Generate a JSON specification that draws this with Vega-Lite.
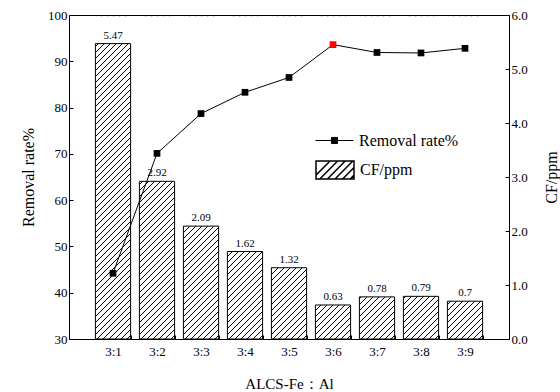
{
  "$schema": "https://vega.github.io/schema/vega-lite/v6.json",
  "width": 440,
  "height": 324,
  "autosize": "none",
  "padding": {"left": 69, "top": 15, "right": 51, "bottom": 53},
  "background": "white",
  "config": {
    "view": {"stroke": "black", "strokeWidth": 1},
    "font": "Liberation Serif, Times New Roman, serif",
    "axis": {"labelFont": "Liberation Serif, Times New Roman, serif", "titleFont": "Liberation Serif, Times New Roman, serif", "labelColor": "black", "titleColor": "black", "domainColor": "black", "tickColor": "black", "grid": false, "ticks": true, "titleFontWeight": "normal", "labelFontSize": 13, "titleFontSize": 16, "domainWidth": 1, "tickWidth": 1, "tickOpacity": 1, "zindex": 1},
    "legend": {"labelFont": "Liberation Serif, Times New Roman, serif", "labelFontSize": 16, "labelColor": "black"}
  },
  "data": {"values": [
    {"ratio": "3:1", "removal": 44.2, "cf": 5.47},
    {"ratio": "3:2", "removal": 70.1, "cf": 2.92},
    {"ratio": "3:3", "removal": 78.7, "cf": 2.09},
    {"ratio": "3:4", "removal": 83.3, "cf": 1.62},
    {"ratio": "3:5", "removal": 86.5, "cf": 1.32},
    {"ratio": "3:6", "removal": 93.6, "cf": 0.63},
    {"ratio": "3:7", "removal": 91.9, "cf": 0.78},
    {"ratio": "3:8", "removal": 91.8, "cf": 0.79},
    {"ratio": "3:9", "removal": 92.8, "cf": 0.7}
  ]},
  "layer": [
    {
      "layer": [
        {
          "mark": {"type": "bar", "fill": {"gradient": "linear", "x1": 0, "y1": 0, "x2": 0.1205, "y2": 1.1035, "stops": [
            {"offset": 0, "color": "#fff"},
            {"offset": 0.0139, "color": "#fff"}, {"offset": 0.0167, "color": "#000"}, {"offset": 0.0194, "color": "#fff"},
            {"offset": 0.0306, "color": "#fff"}, {"offset": 0.0333, "color": "#000"}, {"offset": 0.0361, "color": "#fff"},
            {"offset": 0.0472, "color": "#fff"}, {"offset": 0.05, "color": "#000"}, {"offset": 0.0528, "color": "#fff"},
            {"offset": 0.0639, "color": "#fff"}, {"offset": 0.0667, "color": "#000"}, {"offset": 0.0694, "color": "#fff"},
            {"offset": 0.0806, "color": "#fff"}, {"offset": 0.0833, "color": "#000"}, {"offset": 0.0861, "color": "#fff"},
            {"offset": 0.0972, "color": "#fff"}, {"offset": 0.1, "color": "#000"}, {"offset": 0.1028, "color": "#fff"},
            {"offset": 0.1139, "color": "#fff"}, {"offset": 0.1167, "color": "#000"}, {"offset": 0.1194, "color": "#fff"},
            {"offset": 0.1306, "color": "#fff"}, {"offset": 0.1333, "color": "#000"}, {"offset": 0.1361, "color": "#fff"},
            {"offset": 0.1472, "color": "#fff"}, {"offset": 0.15, "color": "#000"}, {"offset": 0.1528, "color": "#fff"},
            {"offset": 0.1639, "color": "#fff"}, {"offset": 0.1667, "color": "#000"}, {"offset": 0.1694, "color": "#fff"},
            {"offset": 0.1806, "color": "#fff"}, {"offset": 0.1833, "color": "#000"}, {"offset": 0.1861, "color": "#fff"},
            {"offset": 0.1972, "color": "#fff"}, {"offset": 0.2, "color": "#000"}, {"offset": 0.2028, "color": "#fff"},
            {"offset": 0.2139, "color": "#fff"}, {"offset": 0.2167, "color": "#000"}, {"offset": 0.2194, "color": "#fff"},
            {"offset": 0.2306, "color": "#fff"}, {"offset": 0.2333, "color": "#000"}, {"offset": 0.2361, "color": "#fff"},
            {"offset": 0.2472, "color": "#fff"}, {"offset": 0.25, "color": "#000"}, {"offset": 0.2528, "color": "#fff"},
            {"offset": 0.2639, "color": "#fff"}, {"offset": 0.2667, "color": "#000"}, {"offset": 0.2694, "color": "#fff"},
            {"offset": 0.2806, "color": "#fff"}, {"offset": 0.2833, "color": "#000"}, {"offset": 0.2861, "color": "#fff"},
            {"offset": 0.2972, "color": "#fff"}, {"offset": 0.3, "color": "#000"}, {"offset": 0.3028, "color": "#fff"},
            {"offset": 0.3139, "color": "#fff"}, {"offset": 0.3167, "color": "#000"}, {"offset": 0.3194, "color": "#fff"},
            {"offset": 0.3306, "color": "#fff"}, {"offset": 0.3333, "color": "#000"}, {"offset": 0.3361, "color": "#fff"},
            {"offset": 0.3472, "color": "#fff"}, {"offset": 0.35, "color": "#000"}, {"offset": 0.3528, "color": "#fff"},
            {"offset": 0.3639, "color": "#fff"}, {"offset": 0.3667, "color": "#000"}, {"offset": 0.3694, "color": "#fff"},
            {"offset": 0.3806, "color": "#fff"}, {"offset": 0.3833, "color": "#000"}, {"offset": 0.3861, "color": "#fff"},
            {"offset": 0.3972, "color": "#fff"}, {"offset": 0.4, "color": "#000"}, {"offset": 0.4028, "color": "#fff"},
            {"offset": 0.4139, "color": "#fff"}, {"offset": 0.4167, "color": "#000"}, {"offset": 0.4194, "color": "#fff"},
            {"offset": 0.4306, "color": "#fff"}, {"offset": 0.4333, "color": "#000"}, {"offset": 0.4361, "color": "#fff"},
            {"offset": 0.4472, "color": "#fff"}, {"offset": 0.45, "color": "#000"}, {"offset": 0.4528, "color": "#fff"},
            {"offset": 0.4639, "color": "#fff"}, {"offset": 0.4667, "color": "#000"}, {"offset": 0.4694, "color": "#fff"},
            {"offset": 0.4806, "color": "#fff"}, {"offset": 0.4833, "color": "#000"}, {"offset": 0.4861, "color": "#fff"},
            {"offset": 0.4972, "color": "#fff"}, {"offset": 0.5, "color": "#000"}, {"offset": 0.5028, "color": "#fff"},
            {"offset": 0.5139, "color": "#fff"}, {"offset": 0.5167, "color": "#000"}, {"offset": 0.5194, "color": "#fff"},
            {"offset": 0.5306, "color": "#fff"}, {"offset": 0.5333, "color": "#000"}, {"offset": 0.5361, "color": "#fff"},
            {"offset": 0.5472, "color": "#fff"}, {"offset": 0.55, "color": "#000"}, {"offset": 0.5528, "color": "#fff"},
            {"offset": 0.5639, "color": "#fff"}, {"offset": 0.5667, "color": "#000"}, {"offset": 0.5694, "color": "#fff"},
            {"offset": 0.5806, "color": "#fff"}, {"offset": 0.5833, "color": "#000"}, {"offset": 0.5861, "color": "#fff"},
            {"offset": 0.5972, "color": "#fff"}, {"offset": 0.6, "color": "#000"}, {"offset": 0.6028, "color": "#fff"},
            {"offset": 0.6139, "color": "#fff"}, {"offset": 0.6167, "color": "#000"}, {"offset": 0.6194, "color": "#fff"},
            {"offset": 0.6306, "color": "#fff"}, {"offset": 0.6333, "color": "#000"}, {"offset": 0.6361, "color": "#fff"},
            {"offset": 0.6472, "color": "#fff"}, {"offset": 0.65, "color": "#000"}, {"offset": 0.6528, "color": "#fff"},
            {"offset": 0.6639, "color": "#fff"}, {"offset": 0.6667, "color": "#000"}, {"offset": 0.6694, "color": "#fff"},
            {"offset": 0.6806, "color": "#fff"}, {"offset": 0.6833, "color": "#000"}, {"offset": 0.6861, "color": "#fff"},
            {"offset": 0.6972, "color": "#fff"}, {"offset": 0.7, "color": "#000"}, {"offset": 0.7028, "color": "#fff"},
            {"offset": 0.7139, "color": "#fff"}, {"offset": 0.7167, "color": "#000"}, {"offset": 0.7194, "color": "#fff"},
            {"offset": 0.7306, "color": "#fff"}, {"offset": 0.7333, "color": "#000"}, {"offset": 0.7361, "color": "#fff"},
            {"offset": 0.7472, "color": "#fff"}, {"offset": 0.75, "color": "#000"}, {"offset": 0.7528, "color": "#fff"},
            {"offset": 0.7639, "color": "#fff"}, {"offset": 0.7667, "color": "#000"}, {"offset": 0.7694, "color": "#fff"},
            {"offset": 0.7806, "color": "#fff"}, {"offset": 0.7833, "color": "#000"}, {"offset": 0.7861, "color": "#fff"},
            {"offset": 0.7972, "color": "#fff"}, {"offset": 0.8, "color": "#000"}, {"offset": 0.8028, "color": "#fff"},
            {"offset": 0.8139, "color": "#fff"}, {"offset": 0.8167, "color": "#000"}, {"offset": 0.8194, "color": "#fff"},
            {"offset": 0.8306, "color": "#fff"}, {"offset": 0.8333, "color": "#000"}, {"offset": 0.8361, "color": "#fff"},
            {"offset": 0.8472, "color": "#fff"}, {"offset": 0.85, "color": "#000"}, {"offset": 0.8528, "color": "#fff"},
            {"offset": 0.8639, "color": "#fff"}, {"offset": 0.8667, "color": "#000"}, {"offset": 0.8694, "color": "#fff"},
            {"offset": 0.8806, "color": "#fff"}, {"offset": 0.8833, "color": "#000"}, {"offset": 0.8861, "color": "#fff"},
            {"offset": 0.8972, "color": "#fff"}, {"offset": 0.9, "color": "#000"}, {"offset": 0.9028, "color": "#fff"},
            {"offset": 0.9139, "color": "#fff"}, {"offset": 0.9167, "color": "#000"}, {"offset": 0.9194, "color": "#fff"},
            {"offset": 0.9306, "color": "#fff"}, {"offset": 0.9333, "color": "#000"}, {"offset": 0.9361, "color": "#fff"},
            {"offset": 0.9472, "color": "#fff"}, {"offset": 0.95, "color": "#000"}, {"offset": 0.9528, "color": "#fff"},
            {"offset": 0.9639, "color": "#fff"}, {"offset": 0.9667, "color": "#000"}, {"offset": 0.9694, "color": "#fff"},
            {"offset": 0.9806, "color": "#fff"}, {"offset": 0.9833, "color": "#000"}, {"offset": 0.9861, "color": "#fff"},
            {"offset": 1, "color": "#fff"}
          ]}},
          "encoding": {
            "x": {"field": "ratio", "type": "ordinal", "scale": {"type": "band", "paddingInner": 0.2, "paddingOuter": 0.6},
                  "axis": {"title": "ALCS-Fe：Al", "titleFontSize": 15, "labelAngle": 0, "ticks": true, "tickBand": "extent", "tickSize": -4, "labelPadding": 10, "titlePadding": 18, "labelFontSize": 13}},
            "y": {"datum": 5.97, "type": "quantitative", "scale": {"domain": [0, 6], "nice": false, "zero": true},
                  "axis": {"orient": "right", "title": "CF/ppm", "titleAngle": 270, "titlePadding": 32, "ticks": true, "tickColor": "black", "tickOpacity": 1, "tickWidth": 1,
                           "values": [0, 0.25, 0.5, 0.75, 1, 1.25, 1.5, 1.75, 2, 2.25, 2.5, 2.75, 3, 3.25, 3.5, 3.75, 4, 4.25, 4.5, 4.75, 5, 5.25, 5.5, 5.75, 6],
                           "labelExpr": "round(datum.value*100) % 50 === 0 ? format(datum.value, '.1f') : ''",
                           "tickSize": -4,
                           "labelPadding": 6}},
            "y2": {"datum": 0}
          }
        },
        {
          "mark": {"type": "bar", "fill": "white", "width": {"band": 1.06}},
          "encoding": {
            "x": {"field": "ratio", "type": "ordinal"},
            "y": {"field": "cf", "type": "quantitative", "title": "CF/ppm"},
            "y2": {"datum": 5.97}
          }
        },
        {
          "mark": {"type": "bar", "stroke": "black", "strokeWidth": 1},
          "encoding": {
            "x": {"field": "ratio", "type": "ordinal"},
            "y": {"field": "cf", "type": "quantitative", "title": "CF/ppm"},
            "fill": {"datum": "CF/ppm", "type": "nominal", "scale": {"range": ["transparent"]},
                     "legend": {"title": null, "orient": "none", "legendX": 246, "legendY": 135, "padding": 0,
                                "symbolType": "M-1,-0.47H1V0.47H-1ZM-1,0.27L-0.26,-0.47M-0.8,0.47L0.14,-0.47M-0.4,0.47L0.54,-0.47M0,0.47L0.94,-0.47M0.4,0.47L1,-0.13M0.8,0.47L1,0.27",
                                "symbolSize": 1444, "labelOffset": 5, "labelFontSize": 16, "labelFont": "Liberation Serif, Times New Roman, serif",
                                "encode": {"symbols": {"update": {"fill": {"value": "white"}, "stroke": {"value": "black"}, "strokeWidth": {"value": 1}, "opacity": {"value": 1}}}}}}
          }
        },
        {
          "mark": {"type": "text", "baseline": "bottom", "dy": -3, "fontSize": 11, "font": "Liberation Serif, Times New Roman, serif", "color": "black"},
          "encoding": {
            "x": {"field": "ratio", "type": "ordinal"},
            "y": {"field": "cf", "type": "quantitative", "title": "CF/ppm"},
            "text": {"field": "cf", "type": "nominal"}
          }
        }
      ]
    },
    {
      "layer": [
        {
          "mark": {"type": "line", "strokeWidth": 1},
          "encoding": {
            "x": {"field": "ratio", "type": "ordinal"},
            "y": {"field": "removal", "type": "quantitative", "scale": {"domain": [30, 100], "nice": false, "zero": false},
                  "axis": {"orient": "left", "title": "Removal rate%", "titlePadding": 11, "ticks": true, "tickColor": "black", "tickOpacity": 1, "tickWidth": 1,
                           "values": [30, 35, 40, 45, 50, 55, 60, 65, 70, 75, 80, 85, 90, 95, 100],
                           "labelExpr": "datum.value % 10 === 0 ? datum.label : ''",
                           "tickSize": -4,
                           "labelPadding": 6}},
            "stroke": {"datum": "Removal rate%", "type": "nominal", "scale": {"range": ["black"]},
                       "legend": {"title": null, "orient": "none", "legendX": 246, "legendY": 106, "padding": 0,
                                  "symbolType": "M-1,0H1M-0.16,-0.16H0.16V0.16H-0.16Z",
                                  "symbolSize": 1444, "labelOffset": 5, "labelFontSize": 16, "labelFont": "Liberation Serif, Times New Roman, serif",
                                  "encode": {"symbols": {"update": {"fill": {"value": "black"}, "stroke": {"value": "black"}, "strokeWidth": {"value": 1}, "opacity": {"value": 1}}}}}}
          }
        },
        {
          "mark": {"type": "point", "shape": "square", "filled": true, "size": 45, "opacity": 1},
          "encoding": {
            "x": {"field": "ratio", "type": "ordinal"},
            "y": {"field": "removal", "type": "quantitative"},
            "color": {"condition": {"test": "datum.ratio === '3:6'", "value": "red"}, "value": "black"}
          }
        }
      ]
    }
  ],
  "resolve": {"scale": {"y": "independent"}}
}
